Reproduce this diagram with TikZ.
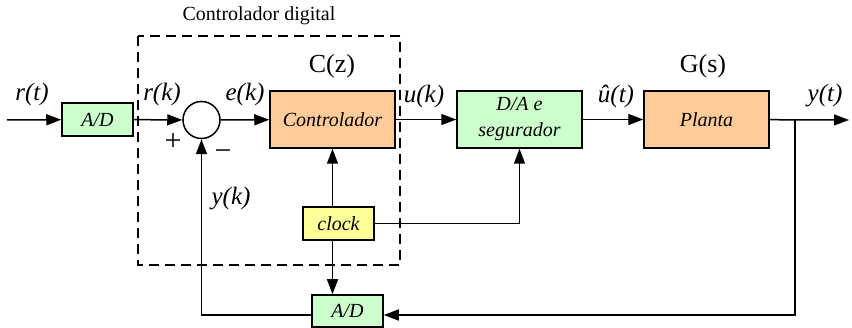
\documentclass[tikz,border=0pt]{standalone}
\usepackage{fontspec}
\setmainfont{Liberation Serif}
\newfontfamily\timesfont{Liberation Serif}
\usepackage{xcolor}
\usetikzlibrary{arrows.meta, positioning}

\definecolor{adgreen}{HTML}{CCFFCC}
\definecolor{ctrlorange}{HTML}{FFCC99}
\definecolor{clockyellow}{HTML}{FFFF99}

\newcommand{\blkfont}{\timesfont\fontsize{20}{22}\selectfont\itshape}
\newcommand{\sigfont}{\timesfont\fontsize{25}{27}\selectfont\itshape}
\newcommand{\tffont}{\timesfont\fontsize{26}{28}\selectfont}

\begin{document}
\begin{tikzpicture}[x=1pt, y=-1pt,
    block/.style={rectangle, draw, line width=1.5pt, inner sep=0pt, font=\blkfont, align=center},
    smallblock/.style={block, minimum width=71pt, minimum height=33pt},
    bigblock/.style={block, minimum width=125pt, minimum height=57pt},
    arrow/.style={line width=1.5pt, -{Triangle[length=15pt, width=11pt]}},
    signal/.style={font=\sigfont}]

    \useasboundingbox (0,0) rectangle (852,328);

    % Controller frame
    \draw [line width=1.3pt, dash pattern=on 10pt off 6pt] (138,36) rectangle (400,265);
    \node [font=\timesfont\fontsize{20}{22}\selectfont] (frametitle) at (259,16) {Controlador digital};

    % Blocks
    \node [smallblock, fill=adgreen] (adin) at (97.5,119.5) {A/D};
    \node [circle, draw, line width=1.5pt, minimum size=37pt, inner sep=0pt] (sum) at (201.5,120) {};
    \node [bigblock, fill=ctrlorange] (ctrl) at (332.5,119.5) {Controlador};
    \node [bigblock, fill=adgreen] (dahold) at (519.5,119.5) {D/A e\\[4pt]segurador};
    \node [bigblock, fill=ctrlorange] (plant) at (706.5,119.5) {Planta};
    \node [smallblock, fill=clockyellow] (clock) at (338.5,223.5) {clock};
    \node [smallblock, minimum height=32pt, fill=adgreen] (adfb) at (347.5,311) {A/D};

    \coordinate (in) at (7,120);
    \coordinate (out) at (849,120);
    \coordinate (branch) at (795,120);

    % Arrows
    \draw [arrow] (in) -- (adin);
    \draw [arrow] (adin) -- (sum);
    \draw [arrow] (sum) -- (ctrl);
    \draw [arrow] (ctrl) -- (dahold);
    \draw [arrow] (dahold) -- (plant);
    \draw [arrow] (plant) -- (out);
    \draw [arrow] (branch) |- ([yshift=-4pt]adfb.east);
    \draw [arrow] ([yshift=-4pt]adfb.west) -| (sum);
    \draw [arrow] (clock.north -| ctrl) -- (ctrl);
    \draw [arrow] (clock.south -| ctrl) -- (adfb.north -| ctrl);
    \draw [arrow] (clock) -| (dahold);

    % Labels
    \node [signal] (rt) at (32,94) {r(t)};
    \node [signal] (rk) at (162,94) {r(k)};
    \node [signal] (ek) at (245,94) {e(k)};
    \node [signal] (uk) at (424,96) {u(k)};
    \node [signal] (uhat) at (616,96) {û(t)};
    \node [signal] (yt) at (825,96) {y(t)};
    \node [signal] (yk) at (231,199) {y(k)};
    \node [font=\tffont] (cz) at (332,66) {C(z)};
    \node [font=\tffont] (gs) at (703,66) {G(s)};
    \node [font=\timesfont\fontsize{30}{32}\selectfont] (plus) at (173,142) {+};
    \node [font=\timesfont\fontsize{30}{32}\selectfont] (minus) at (223,155) {−};
\end{tikzpicture}
\end{document}
